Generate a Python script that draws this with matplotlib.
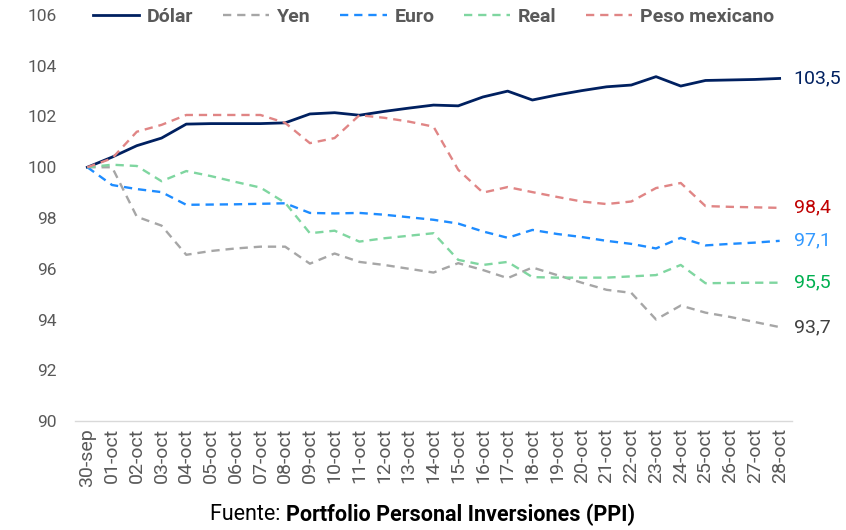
import matplotlib
matplotlib.use("Agg")
import matplotlib.pyplot as plt

plt.rcParams['font.family'] = ['Roboto', 'DejaVu Sans']

fechas = ['30-sep', '01-oct', '02-oct', '03-oct', '04-oct', '05-oct', '06-oct', '07-oct',
          '08-oct', '09-oct', '10-oct', '11-oct', '12-oct', '13-oct', '14-oct', '15-oct',
          '16-oct', '17-oct', '18-oct', '19-oct', '20-oct', '21-oct', '22-oct', '23-oct',
          '24-oct', '25-oct', '26-oct', '27-oct', '28-oct']

dolar = [100.0, 100.4, 100.85, 101.15, 101.7, 101.72, 101.72, 101.72, 101.75, 102.1,
         102.15, 102.05, 102.2, 102.33, 102.45, 102.42, 102.77, 103.0, 102.65, 102.85,
         103.02, 103.17, 103.24, 103.57, 103.2, 103.42, 103.44, 103.46, 103.5]
yen = [100.0, 100.0, 98.05, 97.7, 96.55, 96.7, 96.8, 96.87, 96.87, 96.2,
       96.6, 96.27, 96.15, 96.0, 95.85, 96.22, 95.95, 95.63, 96.05, 95.75,
       95.45, 95.17, 95.05, 94.0, 94.55, 94.27, 94.1, 93.9, 93.7]
euro = [100.0, 99.3, 99.14, 99.02, 98.52, 98.53, 98.54, 98.56, 98.58, 98.2,
        98.18, 98.2, 98.13, 98.03, 97.93, 97.78, 97.47, 97.22, 97.53, 97.37,
        97.25, 97.1, 96.98, 96.8, 97.22, 96.92, 96.98, 97.03, 97.1]
real = [100.0, 100.1, 100.05, 99.45, 99.85, 99.65, 99.42, 99.2, 98.6, 97.4,
        97.5, 97.07, 97.2, 97.3, 97.4, 96.35, 96.15, 96.27, 95.67, 95.65,
        95.65, 95.65, 95.7, 95.75, 96.15, 95.43, 95.44, 95.45, 95.45]
peso = [100.0, 100.35, 101.4, 101.67, 102.06, 102.06, 102.06, 102.06, 101.75, 100.95,
        101.15, 102.05, 101.95, 101.8, 101.6, 99.9, 99.0, 99.22, 99.02, 98.83,
        98.65, 98.55, 98.65, 99.18, 99.38, 98.47, 98.44, 98.42, 98.4]

series = [
    ('Dólar', dolar, '#002060', '-', 2.0, '#002060', '103,5'),
    ('Yen', yen, '#A6A6A6', (0, (3.5, 2.5)), 1.7, '#404040', '93,7'),
    ('Euro', euro, '#1E8CFF', (0, (3.5, 2.5)), 1.7, '#3399FF', '97,1'),
    ('Real', real, '#7FD6A0', (0, (3.5, 2.5)), 1.7, '#00B050', '95,5'),
    ('Peso mexicano', peso, '#E08585', (0, (3.5, 2.5)), 1.7, '#C00000', '98,4'),
]

fig = plt.figure(figsize=(8.46, 5.3), dpi=100)
ax = fig.add_axes([75 / 846, 109 / 530, 717 / 846, 406 / 530])

x = list(range(len(fechas)))
for i, (name, vals, color, ls, lw, lblcolor, lbl) in enumerate(series):
    ax.plot(x, vals, color=color, linestyle=ls, linewidth=lw, label=name, zorder=2 + i)
    ax.annotate(lbl, xy=(x[-1], vals[-1]), xytext=(10, 0), textcoords='offset points',
                va='center', ha='left', color=lblcolor, fontsize=14,
                annotation_clip=False)

ax.set_xlim(-0.5, len(fechas) - 0.5)
ax.set_ylim(90, 106)
ax.set_yticks(range(90, 107, 2))
ax.set_xticks(x)
ax.set_xticklabels(fechas, rotation=90)
ax.tick_params(axis='both', length=0, labelcolor='#595959')
ax.tick_params(axis='y', pad=13, labelsize=12.5)
ax.tick_params(axis='x', pad=5, labelsize=14)

for side in ['top', 'right', 'left']:
    ax.spines[side].set_visible(False)
ax.spines['bottom'].set_color('#D9D9D9')
ax.spines['bottom'].set_linewidth(1.0)

leg = ax.legend(loc='center', bbox_to_anchor=(0.5, 0.995), ncol=5, frameon=False,
                handlelength=2.4, handletextpad=0.4, columnspacing=1.5,
                prop={'weight': 'bold', 'size': 14})
for t in leg.get_texts():
    t.set_color('#595959')

fig.text(0.338, 0.029, 'Fuente: ', ha='right', va='center', fontsize=15.5, color='black')
fig.text(0.338, 0.029, 'Portfolio Personal Inversiones (PPI)', ha='left', va='center',
         fontsize=15.5, fontweight='bold', color='black')

fig.savefig('out.png', dpi=100)
